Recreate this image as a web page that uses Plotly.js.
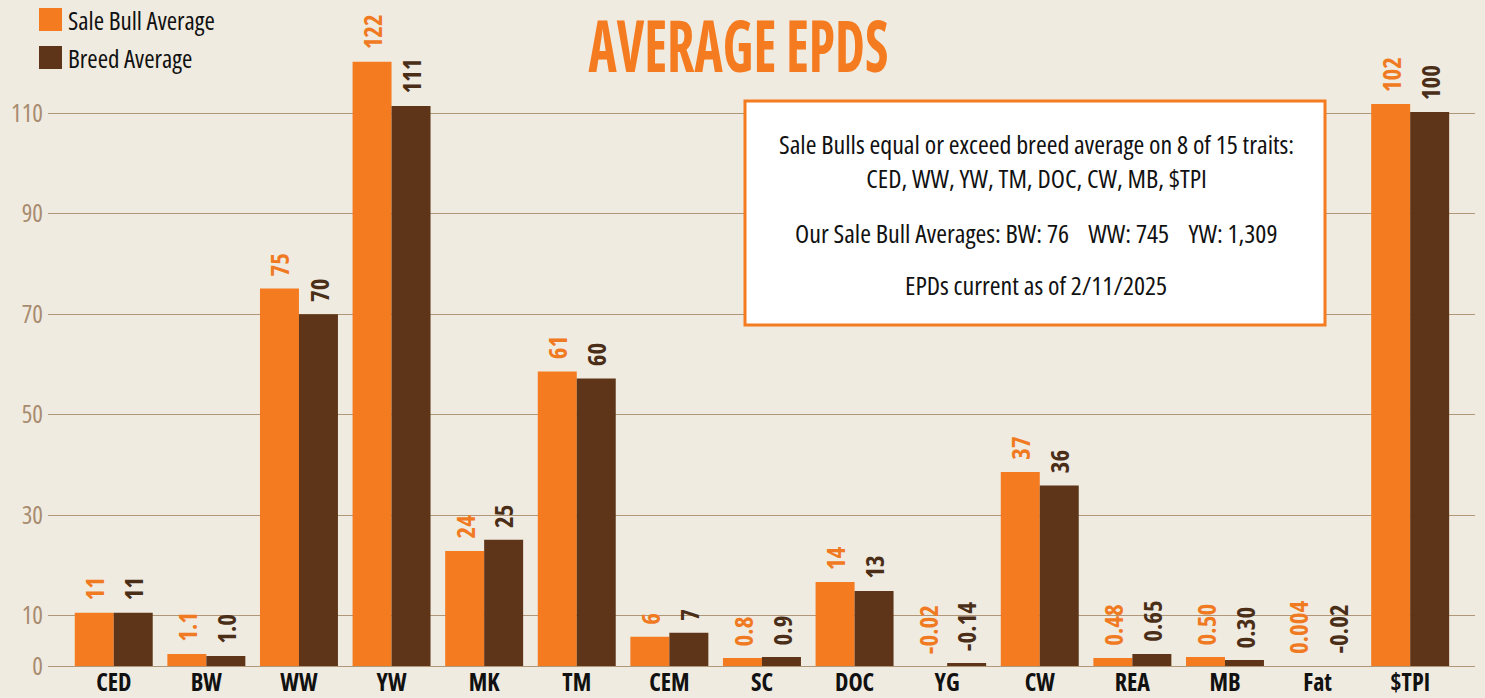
<!DOCTYPE html>
<html>
<head>
<meta charset="utf-8">
<script src="https://cdn.plot.ly/plotly-3.0.1.min.js"></script>
<style>
html,body{margin:0;padding:0;background:#f0ebe0;}
#chart{width:1485px;height:698px;}
svg text{font-stretch:75%;}
</style>
</head>
<body>
<div id="chart"></div>
<script>
const categories = ['CED','BW','WW','YW','MK','TM','CEM','SC','DOC','YG','CW','REA','MB','Fat','$TPI'];
const saleBarHeights  = [10.6, 2.4, 75.1, 120.2, 22.9, 58.6, 5.8, 1.6, 16.7, 0, 38.6, 1.6, 1.8, 0, 111.8];
const breedBarHeights = [10.6, 2.0, 70.0, 111.4, 25.1, 57.2, 6.6, 1.8, 14.9, 0.6, 35.9, 2.4, 1.2, 0, 110.2];
const saleLabels  = ['11','1.1','75','122','24','61','6','0.8','14','-0.02','37','0.48','0.50','0.004','102'];
const breedLabels = ['11','1.0','70','111','25','60','7','0.9','13','-0.14','36','0.65','0.30','-0.02','100'];
const yTickVals = [0, 10, 30, 50, 70, 90, 110];
const seriesNames = ['Sale Bull Average', 'Breed Average'];
const infoLines = [
  'Sale Bulls equal or exceed breed average on 8 of 15 traits:<br>CED, WW, YW, TM, DOC, CW, MB, $TPI',
  'Our Sale Bull Averages: BW: 76\u00A0\u00A0\u00A0\u00A0WW: 745\u00A0\u00A0\u00A0\u00A0YW: 1,309',
  'EPDs current as of 2/11/2025'
];
const chartTitle = 'AVERAGE EPDS';

const ORANGE = '#f47b20', BROWN = '#5e3518';
const F = "'Open Sans', 'DejaVu Sans Condensed', sans-serif";
const W = 1485, H = 698, ML = 48, MR = 10, MT = 0, MB = 32;
const pw = W - ML - MR, ph = H - MT - MB;
const px = x => (x - ML) / pw;
const py = y => (H - MB - y) / ph;

const traces = [
  {type:'bar', name:seriesNames[0], x:categories, y:saleBarHeights, marker:{color:ORANGE}, showlegend:false, hoverinfo:'skip'},
  {type:'bar', name:seriesNames[1], x:categories, y:breedBarHeights, marker:{color:BROWN}, showlegend:false, hoverinfo:'skip'}
];

const annotations = [];
categories.forEach((c, i) => {
  annotations.push({x:c, y:saleBarHeights[i], xref:'x', yref:'y', text:saleLabels[i], showarrow:false,
    textangle:-90, xanchor:'center', yanchor:'bottom', xshift:-19.5, yshift:10,
    font:{family:F, size:25, color:'#f07a22', weight:700}});
  annotations.push({x:c, y:breedBarHeights[i], xref:'x', yref:'y', text:breedLabels[i], showarrow:false,
    textangle:-90, xanchor:'center', yanchor:'bottom', xshift:19.5, yshift:10,
    font:{family:F, size:25, color:'#4a2e18', weight:700}});
});
// title
annotations.push({xref:'paper', yref:'paper', x:px(738), y:py(44), text:chartTitle, showarrow:false,
  xanchor:'center', yanchor:'middle', font:{family:F, size:72, color:ORANGE, weight:700}});
// legend
annotations.push({xref:'paper', yref:'paper', x:px(66), y:py(20), text:seriesNames[0], showarrow:false,
  xanchor:'left', yanchor:'middle', font:{family:F, size:25, color:'#111'}});
annotations.push({xref:'paper', yref:'paper', x:px(66), y:py(58), text:seriesNames[1], showarrow:false,
  xanchor:'left', yanchor:'middle', font:{family:F, size:25, color:'#111'}});
// info box text
const infoY = [161, 233, 285];
infoLines.forEach((t, i) => {
  annotations.push({xref:'paper', yref:'paper', x:px(1036), y:py(infoY[i]), text:t, showarrow:false,
    xanchor:'center', yanchor:'middle', align:'center', font:{family:F, size:26, color:'#111'}});
});

const shapes = [
  {type:'rect', xref:'paper', yref:'paper', x0:px(39), x1:px(62), y0:py(31), y1:py(8), fillcolor:ORANGE, line:{width:0}},
  {type:'rect', xref:'paper', yref:'paper', x0:px(39), x1:px(62), y0:py(69), y1:py(46), fillcolor:BROWN, line:{width:0}},
  {type:'rect', xref:'paper', yref:'paper', x0:px(745), x1:px(1325), y0:py(325), y1:py(101), fillcolor:'#ffffff', line:{color:ORANGE, width:3}, layer:'above'}
];

const layout = {
  width:W, height:H,
  margin:{l:ML, r:MR, t:MT, b:MB, pad:0},
  paper_bgcolor:'#f0ebe0', plot_bgcolor:'rgba(0,0,0,0)',
  barmode:'group', bargap:0.158, bargroupgap:0,
  showlegend:false,
  xaxis:{type:'category', range:[-0.71, 14.7], showgrid:false, zeroline:false, showline:false, ticks:'',
    tickfont:{family:F, size:24, color:'#111', weight:700}, fixedrange:true},
  yaxis:{range:[0, 132.5], tickvals:yTickVals, ticktext:yTickVals.map(String), showgrid:true,
    gridcolor:'#b09778', gridwidth:1, zeroline:true, zerolinecolor:'#b09778', zerolinewidth:1,
    showline:false, ticks:'', ticklabelstandoff:4,
    tickfont:{family:F, size:25, color:'#a88c70'}, fixedrange:true},
  annotations, shapes
};

Plotly.newPlot('chart', traces, layout, {displayModeBar:false, staticPlot:true}).then(() => {
  // compress the display title to the reference width with SVG textLength
  document.querySelectorAll('.annotation-text').forEach(el => {
    if (el.textContent === chartTitle) {
      el.setAttribute('textLength', '300');
      el.setAttribute('lengthAdjust', 'spacingAndGlyphs');
    }
  });
});
</script>
</body>
</html>
